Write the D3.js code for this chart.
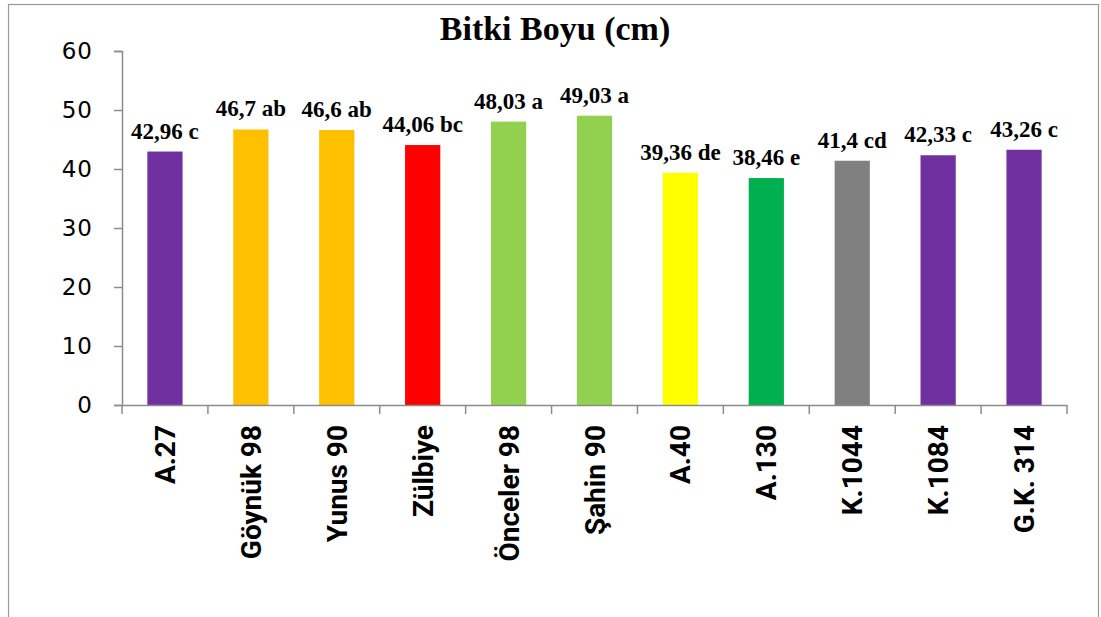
<!DOCTYPE html>
<html>
<head>
<meta charset="utf-8">
<script src="https://cdn.jsdelivr.net/npm/d3@7"></script>
<style>
  body { margin: 0; background: #fff; }
  svg { display: block; }
</style>
</head>
<body>
<svg id="chart" width="1101" height="617"></svg>
<script>
// bitki boyu (cm) per cultivar, with the letter groups
var cultivars = ["A.27", "Göynük 98", "Yunus 90", "Zülbiye", "Önceler 98", "Şahin 90",
  "A.40", "A.130", "K.1044", "K.1084", "G.K. 314"];
var heights = [42.96, 46.7, 46.6, 44.06, 48.03, 49.03, 39.36, 38.46, 41.4, 42.33, 43.26];
var groups = ["c", "ab", "ab", "bc", "a", "a", "de", "e", "cd", "c", "c"];
var barColors = ["#7030A0", "#FFC000", "#FFC000", "#FF0000", "#92D050", "#92D050",
  "#FFFF00", "#00B050", "#808080", "#7030A0", "#7030A0"];
var yTicks = [0, 10, 20, 30, 40, 50, 60];

var svg = d3.select("#chart");
var axisColor = "#8c8c8c";

// outer frame
svg.append("rect")
  .attr("x", 8.5).attr("y", 4.5)
  .attr("width", 1090).attr("height", 640)
  .attr("fill", "none").attr("stroke", "#999").attr("stroke-width", 1.2);

var plotLeft = 122, plotRight = 1067, plotTop = 51, plotBottom = 405;

var x = d3.scaleBand()
  .domain(cultivars)
  .range([plotLeft, plotRight])
  .paddingInner(0.59)
  .paddingOuter(0.295);

var y = d3.scaleLinear()
  .domain([0, 60])
  .range([plotBottom, plotTop]);

// title
svg.append("text")
  .attr("x", 555).attr("y", 40)
  .attr("text-anchor", "middle")
  .style("font-family", "'Liberation Serif', 'Times New Roman', serif")
  .style("font-weight", "bold")
  .style("font-size", "34px")
  .text("Bitki Boyu (cm)");

// bars
svg.selectAll(".bar")
  .data(heights)
  .enter().append("rect")
  .attr("class", "bar")
  .attr("x", function(d, i) { return x(cultivars[i]); })
  .attr("width", x.bandwidth())
  .attr("y", function(d) { return y(d); })
  .attr("height", function(d) { return y(0) - y(d); })
  .attr("fill", function(d, i) { return barColors[i]; });

// value labels
svg.selectAll(".lbl")
  .data(heights)
  .enter().append("text")
  .attr("class", "lbl")
  .attr("x", function(d, i) { return x(cultivars[i]) + x.bandwidth() / 2; })
  .attr("y", function(d) { return y(d) - 13; })
  .attr("text-anchor", "middle")
  .style("font-family", "'Liberation Serif', 'Times New Roman', serif")
  .style("font-weight", "bold")
  .style("font-size", "23px")
  .text(function(d, i) { return String(d).replace(".", ",") + " " + groups[i]; });

// y axis
var yAxis = svg.append("g")
  .attr("transform", "translate(" + plotLeft + ",0)")
  .call(d3.axisLeft(y).tickValues(yTicks).tickSize(8).tickPadding(21));
yAxis.select(".domain").attr("stroke", axisColor).attr("stroke-width", 1.5);
yAxis.selectAll(".tick line").attr("stroke", axisColor).attr("stroke-width", 1.5);
yAxis.selectAll(".tick text")
  .attr("font-family", "'DejaVu Sans', sans-serif")
  .attr("font-size", 23)
  .style("letter-spacing", "1px")
  .attr("fill", "#000");

// x axis: line plus ticks between categories
var xAxis = svg.append("g")
  .attr("transform", "translate(0," + plotBottom + ")")
  .call(d3.axisBottom(x).tickSize(0).tickPadding(0));
xAxis.select(".domain").attr("stroke", axisColor).attr("stroke-width", 1.5);
xAxis.selectAll(".tick text").remove();

xAxis.selectAll(".sep")
  .data(d3.range(cultivars.length + 1))
  .enter().append("line")
  .attr("class", "sep")
  .attr("x1", function(i) { return plotLeft + i * x.step(); })
  .attr("x2", function(i) { return plotLeft + i * x.step(); })
  .attr("y1", 0).attr("y2", 9)
  .attr("stroke", axisColor).attr("stroke-width", 1.5);

// rotated category labels
svg.selectAll(".cat")
  .data(cultivars)
  .enter().append("text")
  .attr("class", "cat")
  .attr("transform", function(d) {
    return "translate(" + (x(d) + x.bandwidth() / 2 + 10) + "," + (plotBottom + 20) + ") rotate(-90)";
  })
  .attr("text-anchor", "end")
  .style("font-family", "Roboto, sans-serif")
  .style("font-weight", "bold")
  .style("font-size", "28px")
  .text(function(d) { return d; });
</script>
</body>
</html>
